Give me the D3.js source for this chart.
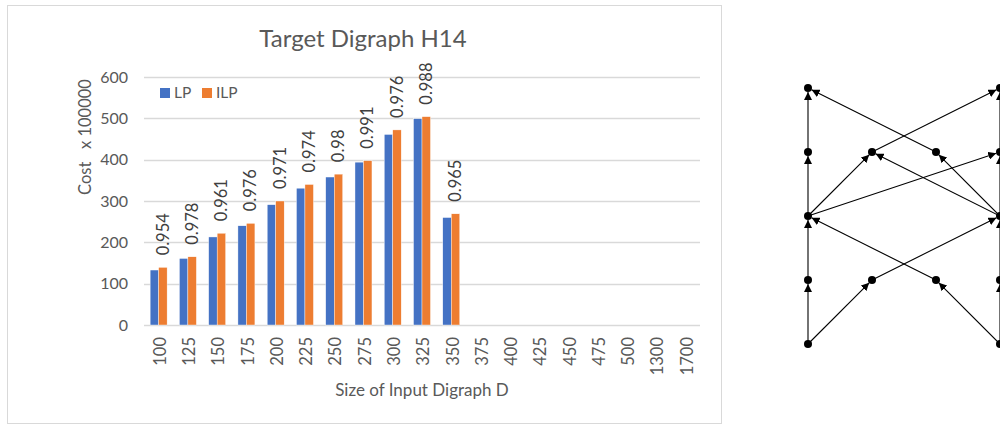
<!DOCTYPE html>
<html>
<head>
<meta charset="utf-8">
<script src="https://cdn.jsdelivr.net/npm/d3@7"></script>
<style>
  body { margin: 0; background: #fff; }
  svg { display: block; font-family: Lato, "Noto Sans", sans-serif; }
</style>
</head>
<body>
<div class="svg-canvas"></div>
<script>
// chart data
var categories = ["100","125","150","175","200","225","250","275","300","325","350",
                  "375","400","425","450","475","500","1300","1700"];
var lpValues  = [133, 161, 213, 240, 291, 331, 358, 394, 461, 499, 260];
var ilpValues = [139.5, 165, 222, 246, 300, 340, 365, 397.5, 472, 504, 269];
var ratioLabels = ["0.954","0.978","0.961","0.976","0.971","0.974","0.98","0.991","0.976","0.988","0.965"];
var yTicks = [0, 100, 200, 300, 400, 500, 600];
var seriesNames = ["LP", "ILP"];
var seriesColors = ["#4472C4", "#ED7D31"];

// digraph data (column, row)
var nodes = [[0,0],[0,1],[0,2],[0,3],[0,4],[1,1],[1,3],[2,1],[2,3],
             [3,0],[3,1],[3,2],[3,3],[3,4]];
var edges = [
  [[0,4],[0,3]], [[0,3],[0,2]], [[0,2],[0,1]], [[0,1],[0,0]],
  [[3,4],[3,3]], [[3,3],[3,2]], [[3,2],[3,1]], [[3,1],[3,0]],
  [[0,4],[1,3]], [[1,3],[3,2]], [[3,4],[2,3]], [[2,3],[0,2]],
  [[0,2],[1,1]], [[0,2],[3,1]], [[3,2],[1,1]], [[3,2],[2,1]],
  [[2,1],[0,0]], [[1,1],[3,0]]
];

var W = 1000, H = 425;
var plot = {left: 144, right: 700, top: 77, bottom: 325};

var svg = d3.select("body").select(".svg-canvas").append("svg")
    .attr("width", W)
    .attr("height", H);

// chart frame
svg.append("rect")
    .attr("x", 7.5).attr("y", 5.5)
    .attr("width", 714).attr("height", 418)
    .attr("fill", "#fff")
    .attr("stroke", "#d9d9d9");

var x0 = d3.scaleBand()
    .domain(categories)
    .range([plot.left, plot.right])
    .paddingInner(0.42)
    .paddingOuter(0.21);

var x1 = d3.scaleBand()
    .domain(seriesNames)
    .range([0, x0.bandwidth()]);

var y = d3.scaleLinear()
    .domain([0, 600])
    .range([plot.bottom, plot.top]);

// gridlines
svg.append("g").selectAll("line")
    .data(yTicks)
    .enter().append("line")
    .attr("x1", plot.left).attr("x2", plot.right)
    .attr("y1", function(d){ return Math.round(y(d)) + 0.5; })
    .attr("y2", function(d){ return Math.round(y(d)) + 0.5; })
    .attr("stroke", "#d9d9d9")
    .attr("stroke-width", 1.3);

// y tick labels
svg.append("g").selectAll("text")
    .data(yTicks)
    .enter().append("text")
    .attr("x", 128)
    .attr("y", function(d){ return y(d); })
    .attr("dy", "0.35em")
    .attr("text-anchor", "end")
    .attr("fill", "#595959")
    .style("font-size", "16px")
    .text(function(d){ return d; });

// bars
var rows = lpValues.map(function(v, i){
    return {cat: categories[i], values: [v, ilpValues[i]], label: ratioLabels[i]};
});

var groups = svg.append("g").selectAll("g")
    .data(rows)
    .enter().append("g")
    .attr("transform", function(d){ return "translate(" + x0(d.cat) + ",0)"; });

groups.selectAll("rect")
    .data(function(d){ return d.values.map(function(v, j){ return {s: seriesNames[j], v: v, j: j}; }); })
    .enter().append("rect")
    .attr("x", function(d){ return x1(d.s); })
    .attr("y", function(d){ return y(d.v); })
    .attr("width", x1.bandwidth())
    .attr("height", function(d){ return y(0) - y(d.v); })
    .attr("fill", function(d){ return seriesColors[d.j]; })
    .attr("stroke", "#fff")
    .attr("stroke-width", 0.4);

// ratio labels above the ILP bar
groups.append("text")
    .attr("transform", function(d){
        return "translate(" + (x1("ILP") + x1.bandwidth() / 2) + "," + (y(d.values[1]) - 12) + ") rotate(-90)";
    })
    .attr("dy", "0.35em")
    .attr("fill", "#404040")
    .style("font-size", "16.5px")
    .text(function(d){ return d.label; });

// x tick labels
svg.append("g").selectAll("text")
    .data(categories)
    .enter().append("text")
    .attr("transform", function(d){
        return "translate(" + (x0(d) + x0.bandwidth() / 2 + 1.5) + ",337) rotate(-90)";
    })
    .attr("dy", "0.35em")
    .attr("text-anchor", "end")
    .attr("fill", "#595959")
    .style("font-size", "16.5px")
    .text(function(d){ return d; });

// title
svg.append("text")
    .attr("x", 363).attr("y", 47)
    .attr("text-anchor", "middle")
    .attr("fill", "#595959")
    .style("font-size", "24px")
    .text("Target Digraph H14");

// axis titles
svg.append("text")
    .attr("transform", "translate(85,137) rotate(-90)")
    .attr("dy", "0.35em")
    .attr("text-anchor", "middle")
    .attr("fill", "#595959")
    .style("font-size", "16.5px")
    .style("white-space", "pre")
    .text("Cost   x 100000");

svg.append("text")
    .attr("x", 422).attr("y", 390)
    .attr("dy", "0.35em")
    .attr("text-anchor", "middle")
    .attr("fill", "#595959")
    .style("font-size", "17px")
    .text("Size of Input Digraph D");

// legend
var legend = svg.append("g").selectAll("g")
    .data(seriesNames)
    .enter().append("g")
    .attr("transform", function(d, i){ return "translate(" + (160 + i * 42) + ",88)"; });
legend.append("rect")
    .attr("width", 10).attr("height", 10)
    .attr("fill", function(d, i){ return seriesColors[i]; });
legend.append("text")
    .attr("x", 14).attr("y", 5)
    .attr("dy", "0.35em")
    .attr("fill", "#595959")
    .style("font-size", "15.5px")
    .text(function(d){ return d; });

// digraph
var gx = d3.scaleLinear().domain([0, 3]).range([808, 1000]);
var gy = d3.scaleLinear().domain([0, 4]).range([88, 344]);

svg.append("defs").append("marker")
    .attr("id", "arrow")
    .attr("viewBox", "0 0 10 10")
    .attr("refX", 10).attr("refY", 5)
    .attr("markerWidth", 8).attr("markerHeight", 8)
    .attr("markerUnits", "userSpaceOnUse")
    .attr("orient", "auto")
    .append("path")
    .attr("d", "M0,0 L10,5 L0,10 z")
    .attr("fill", "#000");

var r = 4;
svg.append("g").selectAll("line")
    .data(edges)
    .enter().append("line")
    .attr("x1", function(d){ return gx(d[0][0]); })
    .attr("y1", function(d){ return gy(d[0][1]); })
    .attr("x2", function(d){
        var dx = gx(d[1][0]) - gx(d[0][0]), dy = gy(d[1][1]) - gy(d[0][1]);
        return gx(d[1][0]) - dx / Math.hypot(dx, dy) * r;
    })
    .attr("y2", function(d){
        var dx = gx(d[1][0]) - gx(d[0][0]), dy = gy(d[1][1]) - gy(d[0][1]);
        return gy(d[1][1]) - dy / Math.hypot(dx, dy) * r;
    })
    .attr("stroke", "#000")
    .attr("stroke-width", 1.1)
    .attr("marker-end", "url(#arrow)");

svg.append("g").selectAll("circle")
    .data(nodes)
    .enter().append("circle")
    .attr("cx", function(d){ return gx(d[0]); })
    .attr("cy", function(d){ return gy(d[1]); })
    .attr("r", r)
    .attr("fill", "#000");
</script>
</body>
</html>
